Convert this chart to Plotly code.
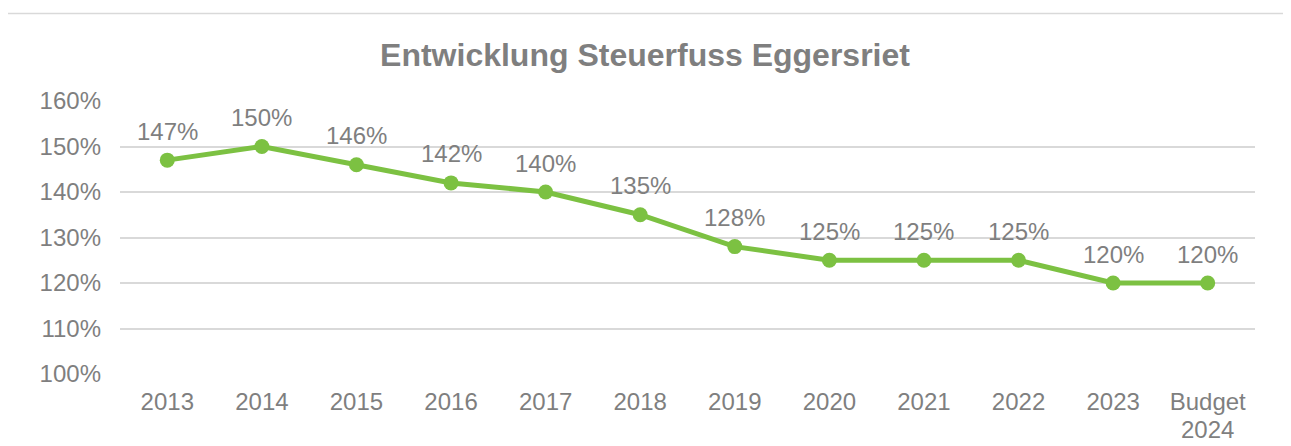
import plotly.graph_objects as go

categories = ["2013", "2014", "2015", "2016", "2017", "2018", "2019", "2020", "2021", "2022", "2023", "Budget 2024"]
values = [147, 150, 146, 142, 140, 135, 128, 125, 125, 125, 120, 120]
value_labels = [f"{v}%" for v in values]
tick_line1 = ["2013", "2014", "2015", "2016", "2017", "2018", "2019", "2020", "2021", "2022", "2023", "Budget"]
tick_line2 = ["", "", "", "", "", "", "", "", "", "", "", "2024"]
y_ticks = [100, 110, 120, 130, 140, 150, 160]
y_tick_labels = [f"{t}%" for t in y_ticks]

OFF = 8  # page body margin
W, H = 1283, 438
L, T = 120 - OFF, 101 - OFF
PR, PB = 1255 - OFF, 374 - OFF
R, B = W - PR, H - PB
pw, ph = PR - L, PB - T

def px_x(p):
    return (p - OFF - L) / pw

def px_y(p):
    return (PB - (p - OFF)) / ph

gray = "#7F7F7F"
green = "#7CC142"
font = "Liberation Sans, Arial, sans-serif"

fig = go.Figure()
fig.add_trace(go.Scatter(
    x=categories, y=values, mode="lines+markers",
    line=dict(color=green, width=5),
    marker=dict(color=green, size=15),
    cliponaxis=False, hoverinfo="skip",
))

annotations = [dict(x=i, y=v, text=t, showarrow=False, xref="x", yref="y",
                    yshift=29, font=dict(size=24, color=gray, family=font))
               for i, (v, t) in enumerate(zip(values, value_labels))]
annotations += [dict(x=i, y=px_y(429), text=t, showarrow=False, xref="x", yref="paper",
                     yanchor="middle", font=dict(size=24, color=gray, family=font))
                for i, t in enumerate(tick_line2) if t]

fig.update_layout(
    width=W, height=H,
    margin=dict(l=L, r=R, t=T, b=B, autoexpand=False),
    paper_bgcolor="white", plot_bgcolor="white",
    showlegend=False,
    font=dict(family=font, color=gray, size=24),
    title=dict(text="<b>Entwicklung Steuerfuss Eggersriet</b>", x=px_x(645), xanchor="center",
               xref="paper", y=1 - (55 - OFF) / H, yanchor="middle",
               font=dict(size=32, color=gray, family=font)),
    xaxis=dict(type="category", range=[-0.5, 11.5], showgrid=False, zeroline=False,
               showline=False, ticks="", ticklabelstandoff=11, automargin=False,
               tickvals=categories, ticktext=tick_line1,
               tickfont=dict(size=24, color=gray, family=font)),
    yaxis=dict(range=[100, 160], tickvals=y_ticks, ticktext=y_tick_labels,
               showgrid=True, gridcolor="#D9D9D9", gridwidth=1.5, zeroline=False,
               showline=False, ticks="", ticklabelstandoff=18, automargin=False,
               tickfont=dict(size=24, color=gray, family=font)),
    annotations=annotations,
    shapes=[dict(type="rect", xref="paper", yref="paper",
                 x0=px_x(7), x1=px_x(1330), y0=px_y(480), y1=px_y(13.5),
                 line=dict(color="#D9D9D9", width=1.5), fillcolor="rgba(0,0,0,0)", layer="below")],
)

fig.write_html("out.html")
